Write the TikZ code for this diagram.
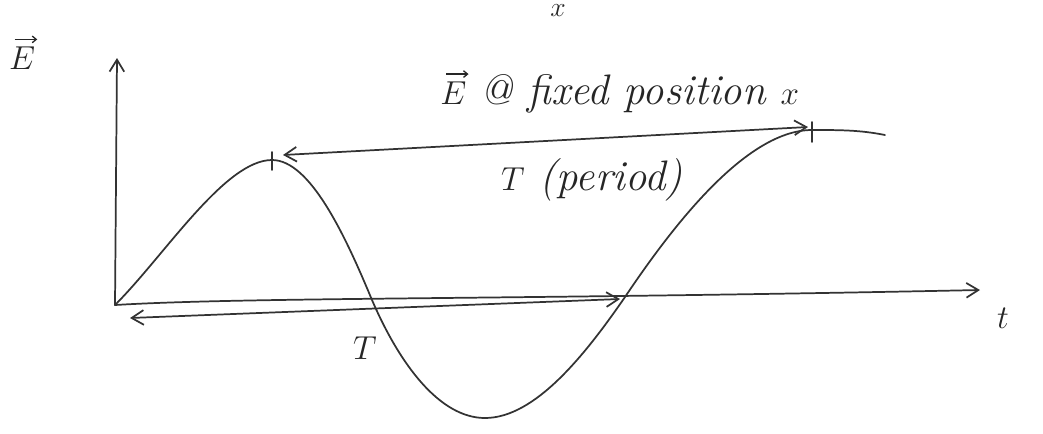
\documentclass[tikz,border=0pt]{standalone}
\usetikzlibrary{arrows.meta,calc}
\begin{document}
\begin{tikzpicture}[x=0.75pt,y=-0.75pt,
  ink/.style={draw=black!80, line width=1.3pt, line cap=round, line join=round},
  hand/.style={font=\fontsize{32}{34}\selectfont\itshape, text=black!85},
  vecarrow/.style={draw=black!85, line width=1pt, -{Straight Barb[length=3pt,width=5pt]}},
  tip/.style={-{Straight Barb[length=9pt,width=11pt]}},
  dtip/.style={{Straight Barb[length=9pt,width=11pt]}-{Straight Barb[length=9pt,width=11pt]}}]
\useasboundingbox (0,0) rectangle (1043,433);
% coordinates
\coordinate (O) at (115,305);
\coordinate (Ytop) at (117,58);
\coordinate (Xend) at (980,290);
\coordinate (P1) at (272,160);
\coordinate (Z1) at (372,300);
\coordinate (Tr) at (485,418);
\coordinate (Z2) at (625,297);
\coordinate (P2) at (812,130);
\coordinate (End) at (885,135);
\coordinate (A1) at (283,155);
\coordinate (A2) at (808,127);
\coordinate (B1) at (130,318);
\coordinate (B2) at (620,299);
% axes
\draw[ink,tip] (O) -- (Ytop);
\draw[ink,tip] (O) .. controls (250,297) and (500,300) .. (Xend);
% curve
\draw[ink] (O) .. controls (165,255) and (225,160) .. (P1)
  .. controls (310,160) and (345,235) .. (Z1)
  .. controls (400,365) and (440,418) .. (Tr)
  .. controls (535,418) and (585,355) .. (Z2)
  .. controls (670,230) and (745,130) .. (P2)
  .. controls (840,130) and (860,130) .. (End);
% ticks at peaks
\draw[ink] ($(P1)+(0,-8)$) coordinate (p1a) -- ($(P1)+(0,10)$) coordinate (p1b);
\draw[ink] ($(P2)+(0,-8)$) coordinate (p2a) -- ($(P2)+(0,12)$) coordinate (p2b);
% period arrows
\draw[ink,dtip] (A1) -- (A2);
\draw[ink,dtip] (B1) -- (B2);
% labels
\node[hand,inner sep=0pt] (Elab) at (22,58) {$E$};
\draw[vecarrow] ($(Elab.north west)+(6,-7)$) coordinate (ea1) -- ($(Elab.north east)+(2,-7)$) coordinate (ea2);
\node[hand] (tlab) at (1003,318) {$t$};
\node[hand,inner sep=0pt,anchor=base west] (titleE) at (440,104) {$E$};
\draw[vecarrow] ($(titleE.north west)+(6,-7)$) coordinate (ta1) -- ($(titleE.north east)+(2,-7)$) coordinate (ta2);
\node[hand,inner sep=0pt,anchor=base west] (title) at ($(titleE.base east)+(14,0)$) {@ fixed position $x$};
\node[hand] (per) at (592,180) {$T$ (period)};
\node[hand] (Tlow) at (365,348) {$T$};
\node[font=\fontsize{20}{22}\selectfont\itshape,text=black!85,inner sep=0pt,anchor=base] (xtop) at (558,16) {$x$};
\end{tikzpicture}
\end{document}
